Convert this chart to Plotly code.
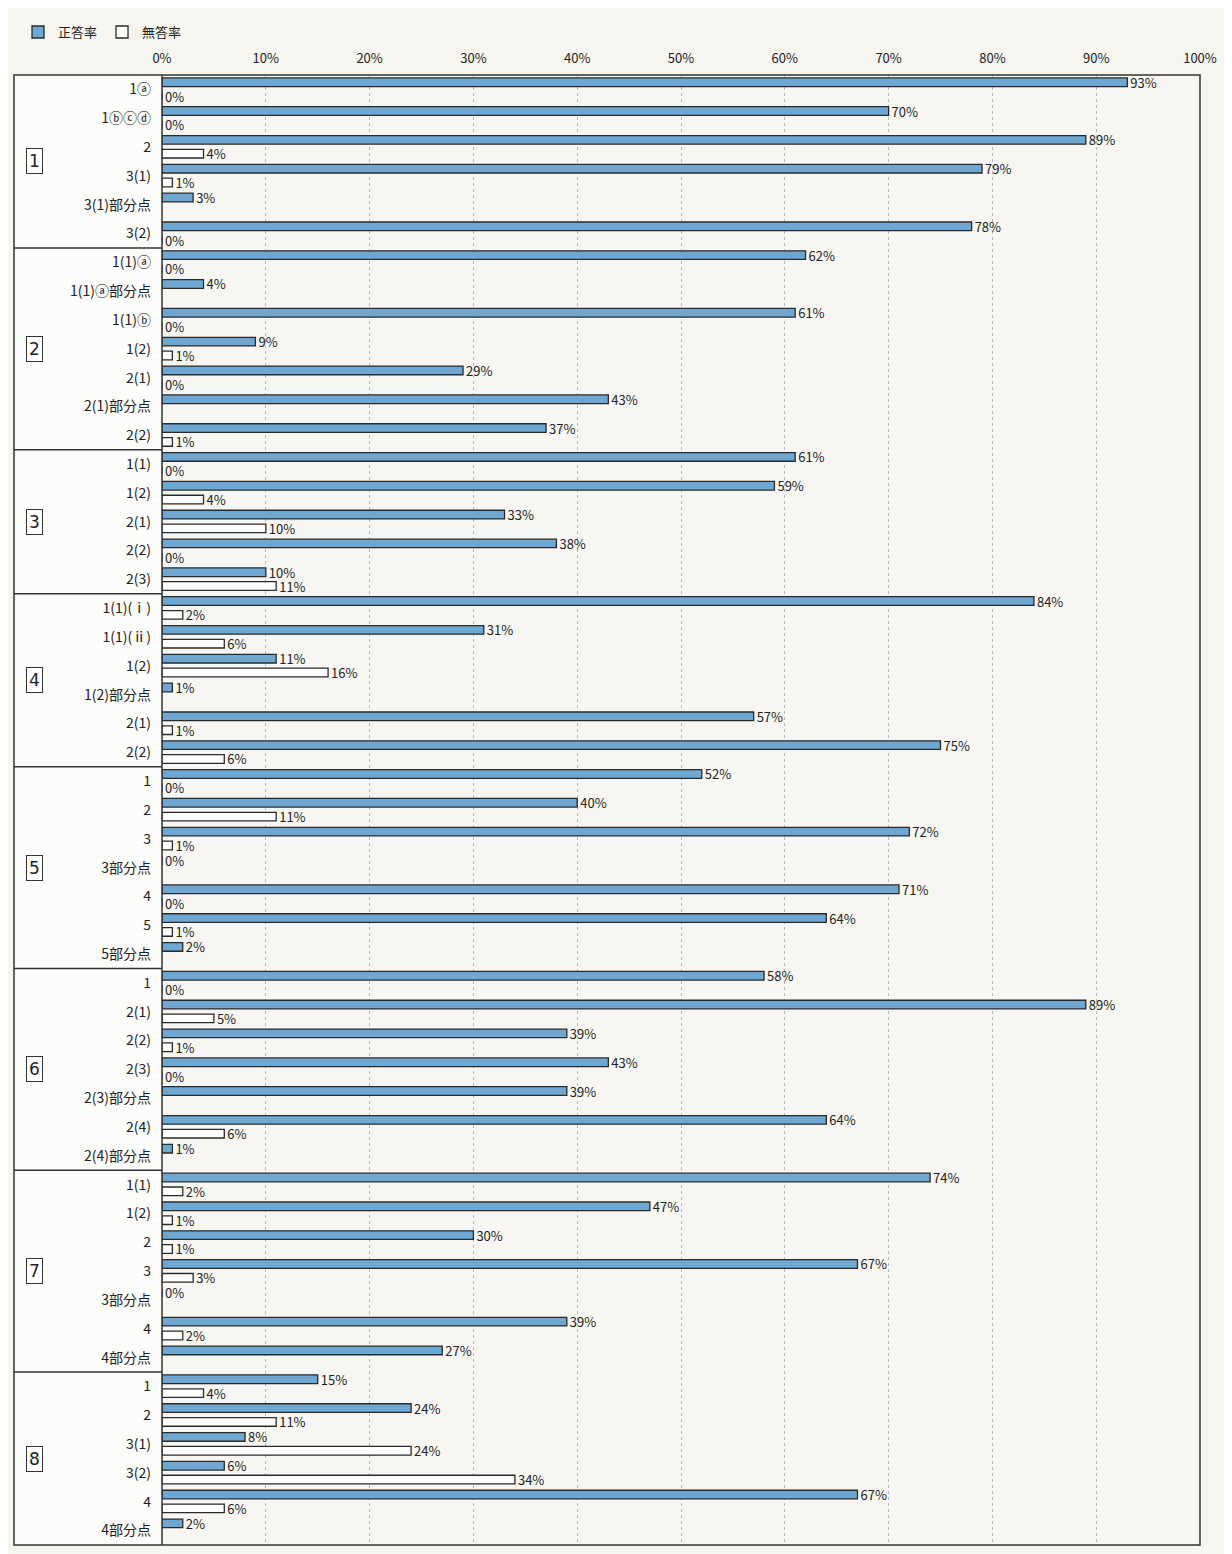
import plotly.graph_objects as go

# ---- data ----
group_names = ["1", "2", "3", "4", "5", "6", "7", "8"]
group_sizes = [6, 7, 5, 6, 7, 7, 7, 6]
item_labels = [
    "1ⓐ", "1ⓑⓒⓓ", "2", "3(1)", "3(1)部分点", "3(2)",
    "1(1)ⓐ", "1(1)ⓐ部分点", "1(1)ⓑ", "1(2)", "2(1)", "2(1)部分点", "2(2)",
    "1(1)", "1(2)", "2(1)", "2(2)", "2(3)",
    "1(1)(ⅰ)", "1(1)(ⅱ)", "1(2)", "1(2)部分点", "2(1)", "2(2)",
    "1", "2", "3", "3部分点", "4", "5", "5部分点",
    "1", "2(1)", "2(2)", "2(3)", "2(3)部分点", "2(4)", "2(4)部分点",
    "1(1)", "1(2)", "2", "3", "3部分点", "4", "4部分点",
    "1", "2", "3(1)", "3(2)", "4", "4部分点",
]
correct_rate = [
    93, 70, 89, 79, 3, 78,
    62, 4, 61, 9, 29, 43, 37,
    61, 59, 33, 38, 10,
    84, 31, 11, 1, 57, 75,
    52, 40, 72, 0, 71, 64, 2,
    58, 89, 39, 43, 39, 64, 1,
    74, 47, 30, 67, 0, 39, 27,
    15, 24, 8, 6, 67, 2,
]
no_answer_rate = [
    0, 0, 4, 1, None, 0,
    0, None, 0, 1, 0, None, 1,
    0, 4, 10, 0, 11,
    2, 6, 16, None, 1, 6,
    0, 11, 1, None, 0, 1, None,
    0, 5, 1, 0, None, 6, None,
    2, 1, 1, 3, None, 2, None,
    4, 11, 24, 34, 6, None,
]
x_ticks = list(range(0, 101, 10))
series_names = ["正答率", "無答率"]

# ---- figure ----
FONT = "Noto Sans CJK JP"
BLUE = "#6ea8d2"
rows = list(range(len(item_labels)))
n = len(rows)

def txt(vals):
    return ["" if v is None else f"{v}%" for v in vals]

fig = go.Figure()
fig.add_trace(go.Bar(
    name=series_names[0], orientation="h", y=rows, x=correct_rate,
    offset=-0.40, width=0.30,
    marker=dict(color=BLUE, line=dict(color="#2a2a2a", width=1.3)),
    text=txt(correct_rate), textposition="outside", constraintext="none",
    cliponaxis=False, textfont=dict(family=FONT, size=13, color="#222222"),
))
fig.add_trace(go.Bar(
    name=series_names[1], orientation="h", y=rows, x=no_answer_rate,
    offset=0.08, width=0.30,
    marker=dict(color="#ffffff", line=dict(color="#2a2a2a", width=1.3)),
    text=txt(no_answer_rate), textposition="outside", constraintext="none",
    cliponaxis=False, textfont=dict(family=FONT, size=13, color="#222222"),
))

# page has an 8px body margin; pixel targets below are in page coordinates
OFF = 8
W, H = 1232 - OFF, 1554 - OFF
ml, mt = 162 - OFF, 73 - OFF
mr = W - (1200 - OFF)
mb = H - (1545 - OFF)
pw = W - ml - mr
ph = H - mt - mb
left_px = 14 - OFF
xl = (left_px - ml) / pw

shapes = []
shapes.append(dict(type="rect", xref="paper", yref="paper", x0=xl, x1=0, y0=0, y1=1,
                   fillcolor="#fcfcfa", line=dict(width=0), layer="below"))
shapes.append(dict(type="rect", xref="paper", yref="paper", x0=xl, x1=1, y0=0, y1=1,
                   line=dict(color="#333333", width=1.5)))
shapes.append(dict(type="line", xref="paper", yref="paper", x0=0, x1=0, y0=0, y1=1,
                   line=dict(color="#333333", width=1.5)))
annotations = []
start = 0
for gi, size in enumerate(group_sizes):
    end = start + size
    if end < n:
        shapes.append(dict(type="line", xref="paper", yref="y", x0=xl, x1=0,
                           y0=end - 0.5, y1=end - 0.5,
                           line=dict(color="#333333", width=1.5)))
    annotations.append(dict(
        xref="paper", yref="y", x=(26 - OFF - ml) / pw, y=(start + end - 1) / 2,
        text=group_names[gi], showarrow=False,
        font=dict(family="DejaVu Sans", size=17, color="#222222"),
        bordercolor="#333333", borderwidth=1, borderpad=2, bgcolor="#ffffff",
    ))
    start = end

fig.update_layout(
    width=W, height=H,
    margin=dict(l=ml, r=mr, t=mt, b=mb),
    paper_bgcolor="#f6f5f0", plot_bgcolor="#f7f6f2",
    barmode="overlay", showlegend=True,
    legend=dict(orientation="h", x=(18 - OFF - ml) / pw, y=1 + (mt - (30 - OFF)) / ph,
                xanchor="left", yanchor="middle",
                font=dict(family=FONT, size=13, color="#222222"),
                bgcolor="rgba(0,0,0,0)", itemwidth=30, tracegroupgap=0),
    font=dict(family=FONT, size=13, color="#222222"),
    shapes=shapes, annotations=annotations,
    xaxis=dict(range=[0, 100], side="top", tickvals=x_ticks,
               ticktext=[f"{v}%" for v in x_ticks],
               showgrid=True, gridcolor="#b8b8b8", griddash="dot", gridwidth=1,
               zeroline=False, showline=False, ticks="", ticklabelstandoff=8,
               tickfont=dict(family=FONT, size=13, color="#222222"),
               fixedrange=True),
    yaxis=dict(range=[n - 0.5, -0.5], tickvals=rows, ticktext=item_labels,
               showgrid=False, zeroline=False, showline=False, ticks="",
               ticklabelstandoff=10,
               tickfont=dict(family=FONT, size=14, color="#222222")),
)

fig.write_html("out.html")
